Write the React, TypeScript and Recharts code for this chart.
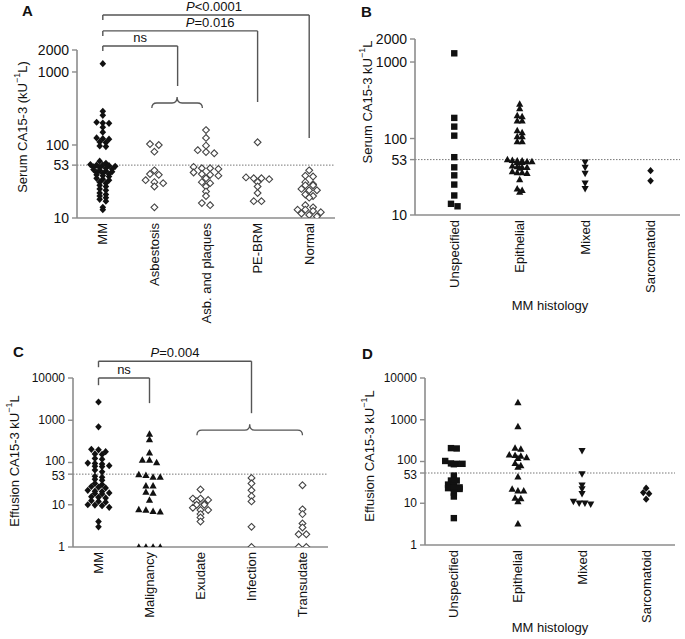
import React from "react";
import { ScatterChart, Scatter, XAxis, YAxis, ReferenceLine } from "recharts";

const FONT = "'Liberation Sans', Arial, Helvetica, sans-serif";
const AXIS = "#8c8c8c";
const INK = "#111";
const BRACKET = "#555";
const CUTOFF = 53;

// A: serum CA15-3 by diagnosis
const serumGroups = ["MM", "Asbestosis", "Asb. and plaques", "PE-BRM", "Normal"];
const serumMM = [
  1300, 290, 255, 205, 200, 198, 175, 150, 125, 122, 120, 110, 108, 97, 95,
  60, 56, 54, 53, 53, 52, 51, 50, 49, 48, 47, 46, 45, 44, 43, 42, 41, 40, 39, 38,
  37, 35, 34, 33, 31, 30, 28, 27, 25, 24, 22, 21, 20, 19, 18, 17, 14, 13,
];
const serumAsbestosis = [103, 100, 81, 45, 40, 39, 33, 31, 30, 27, 14];
const serumPlaques = [160, 125, 98, 85, 80, 77, 50, 48, 48, 47, 42, 40, 39, 38, 35, 31, 30, 27, 23, 20, 16, 15];
const serumPEBRM = [109, 36, 35, 35, 34, 31, 27, 22, 17, 17];
const serumNormal = [45, 38, 37, 31, 29, 28, 28, 25, 24, 24, 21, 20, 19, 15, 14, 13, 13, 12.5, 12, 11.5, 11, 10.5];
const serumTicks = [10, 53, 100, 1000, 2000];

// B: serum CA15-3 by MM histology
const histologyGroups = ["Unspecified", "Epithelial", "Mixed", "Sarcomatoid"];
const serumUnspecified = [1300, 186, 143, 109, 57, 42, 33, 25, 18, 14, 13];
const serumEpithelial = [
  282, 247, 200, 193, 171, 171, 127, 120, 106, 106, 91, 91,
  53, 52, 51, 51, 50, 50, 49, 49, 44, 43, 42, 42, 41, 37, 36, 36, 35, 29, 22, 21, 20,
];
const serumMixed = [49, 42, 35, 26, 22];
const serumSarcomatoid = [38, 28];

// C: effusion CA15-3 by diagnosis
const effusionGroups = ["MM", "Malignancy", "Exudate", "Infection", "Transudate"];
const effusionMM = [
  2700, 700, 205, 200, 180, 160, 155, 125, 120, 97, 95, 92, 84, 82, 80, 66, 60,
  47, 45, 40, 38, 32, 30, 27, 26, 25, 22, 21, 20.5, 19, 18.5, 18, 15.5, 15, 14.5,
  12.5, 12, 11.5, 10, 9.8, 9.5, 8.7, 4, 3,
];
const effusionMalignancy = [470, 350, 170, 115, 114, 100, 52, 50, 45, 45, 28, 28, 20, 19, 13, 7.7, 7.5, 7, 6.8, 1, 1, 1, 1];
const effusionExudate = [23, 14, 14, 13, 12, 10.5, 10, 10, 8.5, 7.5, 7.5, 6, 5, 4];
const effusionInfection = [43, 32, 22, 16, 12, 3, 1];
const effusionTransudate = [29, 7.8, 6, 3.6, 2.9, 2, 2, 1, 1];
const effusionTicks = [1, 10, 53, 100, 1000, 10000];

// D: effusion CA15-3 by MM histology
const effusionUnspecified = [209, 205, 103, 90, 88, 88, 86, 46, 35, 35, 28, 27, 24, 23, 23, 22, 18, 14.5, 4.4];
const effusionEpithelial = [2580, 690, 210, 200, 145, 140, 135, 125, 120, 91, 80, 74, 43, 22, 20, 20, 13.4, 13, 11, 3.2];
const effusionMixed = [182, 50, 27, 22, 17, 11, 10, 10, 9.5];
const effusionSarcomatoid = [23, 18, 17, 12.5];

type Pt = { x: number; y: number };

// Prism-style scatter: values that sit close together share a row and spread sideways
function swarm(values: number[], group: number, rowTol: number, step: number): Pt[] {
  const sorted = [...values].sort((a, b) => b - a);
  const rows: number[][] = [];
  for (const v of sorted) {
    const row = rows[rows.length - 1];
    if (row && Math.log10(row[0]) - Math.log10(v) < rowTol) row.push(v);
    else rows.push([v]);
  }
  return rows.flatMap((row) => row.map((v, i) => ({ x: group + (i - (row.length - 1) / 2) * step, y: v })));
}

const filledDiamond = (p: any) => (
  <polygon
    points={`${p.cx},${p.cy - 3.6} ${p.cx + 3.3},${p.cy} ${p.cx},${p.cy + 3.6} ${p.cx - 3.3},${p.cy}`}
    fill={INK}
  />
);
const openDiamond = (p: any) => (
  <polygon
    points={`${p.cx},${p.cy - 3.4} ${p.cx + 3.4},${p.cy} ${p.cx},${p.cy + 3.4} ${p.cx - 3.4},${p.cy}`}
    fill="#fff"
    stroke="#444"
    strokeWidth={1.1}
  />
);
const triangleUp = (p: any) => (
  <polygon points={`${p.cx},${p.cy - 3.8} ${p.cx + 3.6},${p.cy + 2.7} ${p.cx - 3.6},${p.cy + 2.7}`} fill={INK} />
);
const triangleDown = (p: any) => (
  <polygon points={`${p.cx},${p.cy + 3.8} ${p.cx + 3.6},${p.cy - 2.7} ${p.cx - 3.6},${p.cy - 2.7}`} fill={INK} />
);
const square = (p: any) => <rect x={p.cx - 3.2} y={p.cy - 3.2} width={6.4} height={6.4} fill={INK} />;

function pLabel(text: string) {
  if (!text.startsWith("P")) return text;
  return [
    <tspan key="p" fontStyle="italic">P</tspan>,
    <tspan key="r">{text.slice(1)}</tspan>,
  ];
}

function bracket(id: string, x1: number, x2: number, top: number, leftEnd: number, rightEnd: number, text: string, dx = 0) {
  const common = { ifOverflow: "visible" as const, stroke: BRACKET, strokeWidth: 1.4 };
  return [
    <ReferenceLine
      key={id + "h"}
      {...common}
      segment={[{ x: x1, y: top }, { x: x2, y: top }]}
      shape={(p: any) => (
        <g>
          <line x1={p.x1} y1={p.y1} x2={p.x2} y2={p.y2} stroke={BRACKET} strokeWidth={1.4} />
          <text
            x={(p.x1 + p.x2) / 2 + dx}
            y={p.y1 - 4}
            textAnchor="middle"
            fontSize={13}
            fontFamily={FONT}
            fill={INK}
          >
            {pLabel(text)}
          </text>
        </g>
      )}
    />,
    <ReferenceLine key={id + "l"} {...common} segment={[{ x: x1, y: top }, { x: x1, y: leftEnd }]} />,
    <ReferenceLine key={id + "r"} {...common} segment={[{ x: x2, y: top }, { x: x2, y: rightEnd }]} />,
  ];
}

function brace(id: string, x1: number, x2: number, level: number) {
  return (
    <ReferenceLine
      key={id}
      ifOverflow="visible"
      segment={[{ x: x1, y: level }, { x: x2, y: level }]}
      shape={(p: any) => {
        const y = p.y1;
        const cx = (p.x1 + p.x2) / 2;
        const d = `M${p.x1},${y + 5} Q${p.x1},${y} ${p.x1 + 5},${y} L${cx - 5},${y} Q${cx},${y} ${cx},${y - 6} Q${cx},${y} ${cx + 5},${y} L${p.x2 - 5},${y} Q${p.x2},${y} ${p.x2},${y + 5}`;
        return <path d={d} fill="none" stroke={BRACKET} strokeWidth={1.3} />;
      }}
    />
  );
}

type Series = { data: Pt[]; shape: (p: any) => React.ReactElement };

interface PanelProps {
  left: number;
  top: number;
  width: number;
  height: number;
  plotTop: number;
  plotRight: number;
  yWidth: number;
  xHeight: number;
  bottomGap: number;
  xDomain: [number, number];
  groups: string[];
  yDomain: [number, number];
  yTicks: number[];
  tickFont: number;
  nudge?: Record<number, number>;
  series: Series[];
  extras?: React.ReactNode;
}

function Panel(props: PanelProps) {
  const { groups } = props;
  const nudge = props.nudge ?? {};
  return (
    <div style={{ position: "absolute", left: props.left, top: props.top }}>
      <ScatterChart
        width={props.width}
        height={props.height}
        margin={{ top: props.plotTop, right: props.plotRight, bottom: props.bottomGap, left: 0 }}
      >
        <XAxis
          type="number"
          dataKey="x"
          domain={props.xDomain}
          ticks={groups.map((_, i) => i)}
          interval={0}
          allowDataOverflow
          height={props.xHeight}
          tickSize={0}
          tickMargin={5}
          axisLine={{ stroke: AXIS, strokeWidth: 1.6 }}
          tickLine={false}
          tick={(p: any) => (
            <text
              x={p.x}
              y={p.y}
              transform={`rotate(-90, ${p.x}, ${p.y})`}
              textAnchor="end"
              dominantBaseline="central"
              fontSize={13}
              fontFamily={FONT}
              fill={INK}
            >
              {groups[p.payload.value]}
            </text>
          )}
        />
        <YAxis
          type="number"
          dataKey="y"
          scale="log"
          domain={props.yDomain}
          ticks={props.yTicks}
          interval={0}
          allowDataOverflow
          width={props.yWidth}
          tickSize={5}
          tickMargin={3}
          axisLine={{ stroke: AXIS, strokeWidth: 1.6 }}
          tickLine={{ stroke: AXIS, strokeWidth: 1.4 }}
          tick={(p: any) => (
            <text
              x={p.x}
              y={p.y + (nudge[p.payload.value] ?? 0)}
              textAnchor="end"
              dominantBaseline="central"
              fontSize={props.tickFont}
              fontFamily={FONT}
              fill={INK}
            >
              {p.payload.value}
            </text>
          )}
        />
        <ReferenceLine y={CUTOFF} stroke="#777" strokeDasharray="1.5 1.5" strokeWidth={1} />
        {props.extras}
        {props.series.map((s, i) => (
          <Scatter key={i} data={s.data} shape={s.shape} isAnimationActive={false} />
        ))}
      </ScatterChart>
    </div>
  );
}

const titleStyle = { fontFamily: FONT, fontSize: 13, fill: INK } as const;

function VTitle({ x, y, lead, tail }: { x: number; y: number; lead: string; tail: string }) {
  return (
    <text x={x} y={y} transform={`rotate(-90, ${x}, ${y})`} textAnchor="middle" dominantBaseline="central" {...titleStyle}>
      {lead}
      <tspan dy={-5} fontSize={9}>−1</tspan>
      <tspan dy={5}>{tail}</tspan>
    </text>
  );
}

// effusion axes: 100 and 53 sit close, pull them apart a touch
const effusionNudge = { 100: -1.5, 53: 1.5 };

export default function App() {
  return (
    <div style={{ position: "absolute", left: 0, top: 0, width: 685, height: 639, background: "#fff", overflow: "hidden" }}>
      <Panel
        left={0}
        top={0}
        width={345}
        height={330}
        plotTop={50}
        plotRight={10}
        yWidth={77}
        xHeight={100}
        bottomGap={12}
        xDomain={[-0.5, 4.5]}
        groups={serumGroups}
        yDomain={[10, 2000]}
        yTicks={serumTicks}
        tickFont={14}
        series={[
          { data: swarm(serumMM, 0, 0.032, 0.12), shape: filledDiamond },
          { data: swarm(serumAsbestosis, 1, 0.045, 0.17), shape: openDiamond },
          { data: swarm(serumPlaques, 2, 0.045, 0.16), shape: openDiamond },
          { data: swarm(serumPEBRM, 3, 0.045, 0.15), shape: openDiamond },
          { data: swarm(serumNormal, 4, 0.04, 0.15), shape: openDiamond },
        ]}
        extras={[
          ...bracket("p1", 0, 4, 6040, 5150, 125, "P<0.0001", 8),
          ...bracket("p2", 0, 3, 3650, 3110, 388, "P=0.016", 30),
          ...bracket("ns", 0, 1.45, 2270, 1940, 643, "ns"),
          brace("braceA", 0.95, 1.93, 376),
        ]}
      />
      <Panel
        left={345}
        top={0}
        width={340}
        height={330}
        plotTop={39}
        plotRight={5}
        yWidth={70}
        xHeight={103}
        bottomGap={12}
        xDomain={[-0.6, 3.45]}
        groups={histologyGroups}
        yDomain={[10, 2000]}
        yTicks={serumTicks}
        tickFont={14}
        series={[
          { data: swarm(serumUnspecified, 0, 0.05, 0.1), shape: square },
          { data: swarm(serumEpithelial, 1, 0.03, 0.075), shape: triangleUp },
          { data: swarm(serumMixed, 2, 0.05, 0.1), shape: triangleDown },
          { data: swarm(serumSarcomatoid, 3, 0.05, 0.1), shape: filledDiamond },
        ]}
      />
      <Panel
        left={0}
        top={330}
        width={345}
        height={309}
        plotTop={48}
        plotRight={17}
        yWidth={73}
        xHeight={80}
        bottomGap={12}
        xDomain={[-0.5, 4.5]}
        groups={effusionGroups}
        yDomain={[1, 10000]}
        yTicks={effusionTicks}
        tickFont={12}
        nudge={effusionNudge}
        series={[
          { data: swarm(effusionMM, 0, 0.065, 0.14), shape: filledDiamond },
          { data: swarm(effusionMalignancy, 1, 0.07, 0.14), shape: triangleUp },
          { data: swarm(effusionExudate, 2, 0.06, 0.15), shape: openDiamond },
          { data: swarm(effusionInfection, 3, 0.07, 0.15), shape: openDiamond },
          { data: swarm(effusionTransudate, 4, 0.07, 0.15), shape: openDiamond },
        ]}
        extras={[
          ...bracket("p3", 0, 3, 25000, 18000, 1470, "P=0.004"),
          ...bracket("ns2", 0, 1, 10000, 6760, 2540, "ns"),
          brace("braceC", 1.93, 4.0, 583),
        ]}
      />
      <Panel
        left={345}
        top={330}
        width={340}
        height={309}
        plotTop={48}
        plotRight={10}
        yWidth={80}
        xHeight={82}
        bottomGap={12}
        xDomain={[-0.45, 3.45]}
        groups={histologyGroups}
        yDomain={[1, 10000]}
        yTicks={effusionTicks}
        tickFont={12}
        nudge={effusionNudge}
        series={[
          { data: swarm(effusionUnspecified, 0, 0.07, 0.09), shape: square },
          { data: swarm(effusionEpithelial, 1, 0.07, 0.09), shape: triangleUp },
          { data: swarm(effusionMixed, 2, 0.07, 0.09), shape: triangleDown },
          { data: swarm(effusionSarcomatoid, 3, 0.07, 0.09), shape: filledDiamond },
        ]}
      />
      <svg width={685} height={639} style={{ position: "absolute", left: 0, top: 0, pointerEvents: "none" }}>
        <text x={22} y={16} fontFamily={FONT} fontSize={15} fontWeight="bold" fill={INK}>A</text>
        <text x={361} y={17} fontFamily={FONT} fontSize={15} fontWeight="bold" fill={INK}>B</text>
        <text x={13} y={357} fontFamily={FONT} fontSize={15} fontWeight="bold" fill={INK}>C</text>
        <text x={362} y={359} fontFamily={FONT} fontSize={15} fontWeight="bold" fill={INK}>D</text>
        <VTitle x={22} y={127} lead="Serum CA15-3 (kU" tail="L)" />
        <VTitle x={367} y={102} lead="Serum CA15-3 kU" tail="L" />
        <VTitle x={14} y={461} lead="Effusion CA15-3 kU" tail="L" />
        <VTitle x={369} y={456} lead="Effusion CA15-3 kU" tail="L" />
        <text x={550} y={310} textAnchor="middle" {...titleStyle}>MM histology</text>
        <text x={550} y={632} textAnchor="middle" {...titleStyle}>MM histology</text>
      </svg>
    </div>
  );
}
